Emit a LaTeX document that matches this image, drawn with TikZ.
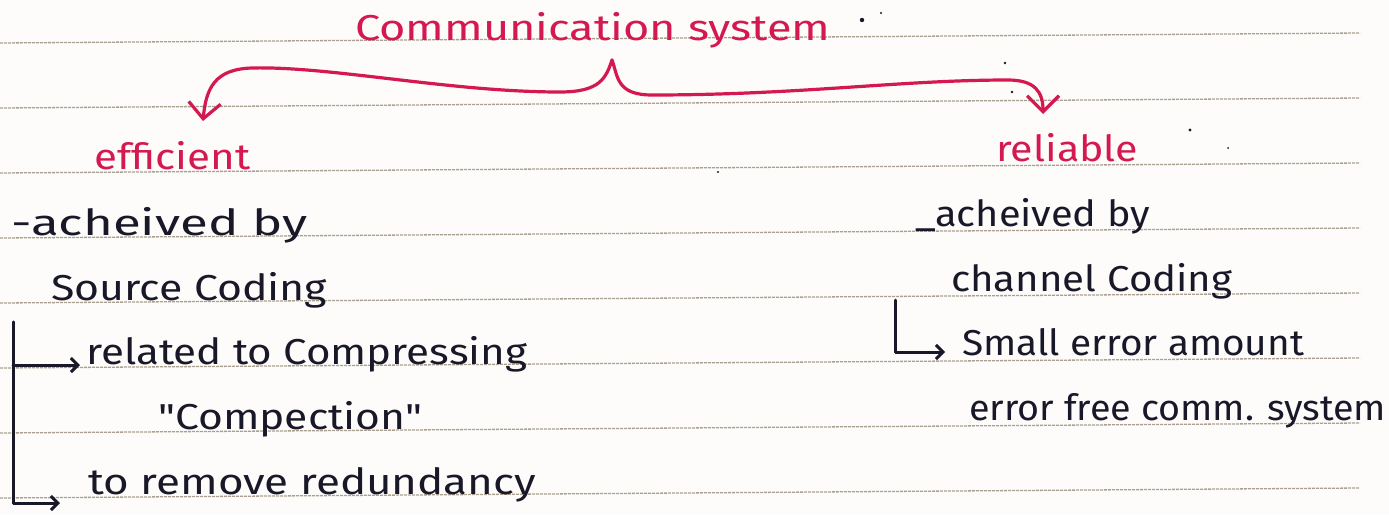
\documentclass[tikz,border=0pt]{standalone}
\usepackage{fontspec}
\setmainfont{Fira Sans}[Ligatures=TeXOff]
\usepackage{graphicx}
\usetikzlibrary{arrows.meta}
\definecolor{pen}{RGB}{212,24,80}
\definecolor{ink}{RGB}{24,24,40}
\definecolor{rulecol}{RGB}{170,160,145}
\definecolor{paper}{RGB}{253,252,250}
\newcommand{\hw}[2]{\resizebox{#1pt}{\height}{#2}}
\begin{document}
\begin{tikzpicture}[x=1pt,y=-1pt,
  txt/.style={anchor=base west, inner sep=0pt, font=\fontsize{36}{42}\selectfont},
  redtxt/.style={txt, text=pen},
  inktxt/.style={txt, text=ink},
  ruled/.style={draw=rulecol, line width=1.3pt, dash pattern=on 3pt off 1pt},
  redline/.style={draw=pen, line width=3.2pt, line cap=round, line join=round,
    -{Straight Barb[length=16pt,width=32pt]}},
  inkbar/.style={draw=ink, line width=3pt, line cap=round, line join=round},
  inkline/.style={inkbar, -{Straight Barb[length=7pt,width=14pt]}},
  speck/.style={fill=ink}]
\fill[paper] (0,0) rectangle (1389,515);
\useasboundingbox (0,0) rectangle (1389,515);
% ruled lines
\foreach \k in {0,...,7}{
  \draw[ruled] (0,{43+65*\k}) -- (1360,{33+65*\k});
}
% texts
\node[redtxt] (comm) at (355,40) {\hw{475}{Communication system}};
\node[redtxt] (eff) at (94,169) {\hw{156}{efficient}};
\node[redtxt] (rel) at (996,161) {\hw{142}{reliable}};
\node[inktxt] (achL) at (11,235) {\hw{296}{-acheived by}};
\node[inktxt] (achR) at (915,226) {\hw{235}{\_acheived by}};
\node[inktxt] (src) at (51,300) {\hw{276}{Source Coding}};
\node[inktxt] (chan) at (951,291) {\hw{281}{channel Coding}};
\node[inktxt] (relt) at (86,364) {\hw{441}{related to Compressing}};
\node[inktxt] (small) at (962,355) {\hw{342}{Small error amount}};
\node[inktxt] (comp) at (158,429) {\hw{264}{"Compection"}};
\node[inktxt] (errf) at (969,420) {\hw{417}{error free comm. system}};
\node[inktxt] (redun) at (88,494) {\hw{448}{to remove redundancy}};
% brace connector
\coordinate (peak) at (612,60);
\coordinate (lt) at (203,121);
\coordinate (rt) at (1043,114);
\draw[redline] (peak) .. controls (606,78) and (600,92) .. (560,92)
  .. controls (450,92) and (330,66) .. (252,68)
  .. controls (215,69) and (206,88) .. (lt);
\draw[redline] (peak) .. controls (618,76) and (616,95) .. (652,95)
  .. controls (800,95) and (900,80) .. (1008,80)
  .. controls (1035,80) and (1043,92) .. (rt);
% left bracket
\coordinate (lb1) at (13,322);
\coordinate (lb2) at (13,365);
\coordinate (lb3) at (13,503);
\coordinate (la1) at (80,365);
\coordinate (la2) at (60,503);
\draw[inkbar] (lb1) -- (lb3);
\draw[inkline] (lb2) -- (la1);
\draw[inkline] (lb1) -- (lb3) -- (la2);
% right bracket
\coordinate (rb1) at (895,300);
\coordinate (rb2) at (895,352);
\coordinate (ra) at (945,352);
\draw[inkline] (rb1) -- (rb2) -- (ra);
% specks
\foreach \p/\r in {{(862,20)}/2.2,{(881,13)}/1.2,{(1012,92)}/1.4,{(1190,130)}/1.6,{(1228,148)}/1,{(718,172)}/1.2,{(1005,63)}/1.4}{
  \fill[speck] \p circle (\r pt);
}
\end{tikzpicture}
\end{document}
